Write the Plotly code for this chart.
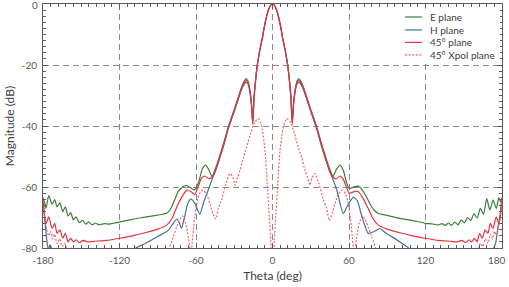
import plotly.graph_objects as go

# ---------------- data ----------------
E_theta_left = [-180, -178.5, -177.6, -175.5, -172.9, -170.8, -169, -166.7, -164.5, -162.5,
                -160.4, -158.3, -156.2, -154.1, -151.5, -148.9, -146.5, -144, -141.5, -139,
                -136, -132, -128, -124, -120, -110, -100, -90, -83, -80,
                -77, -74, -70.5, -67.3, -64, -61.6, -58, -55, -52.4, -50,
                -47.5, -45, -42.5, -38, -34.7, -29.4, -24.2, -22, -20.8, -19.5,
                -18, -16.5, -15.5, -14.5, -13.5, -12, -11, -10, -9, -8,
                -7, -6, -5, -4, -3, -2, -1, 0]
E_db_left = [-63.5, -65.5, -67, -62.8, -65.6, -64.1, -66.5, -65.2, -68.1, -66.5,
             -69.5, -68.4, -70.8, -69.8, -71.7, -70.9, -72.2, -71.4, -72.4, -71.8,
             -72.4, -72, -72.2, -71.8, -71.5, -70.6, -69.9, -69.2, -68.6, -67.3,
             -64.5, -61.5, -60, -59.5, -60.3, -61, -58.5, -54, -52.8, -54.3,
             -56.5, -54.2, -51.2, -45.2, -40.3, -33.8, -27.2, -25.2, -24.5, -25,
             -27.5, -32.5, -39, -31, -26, -20.3, -17.7, -15.2, -13.2, -11.3,
             -8.8, -6.6, -4.7, -3, -1.7, -0.8, -0.2, 0]
E_theta_right = [1, 2, 3, 4, 5, 6, 7, 8, 9, 10,
                 11, 12, 13.5, 14.5, 15.5, 16.5,
                 18, 19.5, 20.8, 22, 24.2, 29.4, 34.7, 38, 42.5, 45,
                 47.5, 50, 52.9, 55.5, 58, 60.2, 63.5, 67.3, 70.5, 74,
                 77, 80, 83, 90, 100, 110, 120, 125, 130, 133,
                 135.5, 138, 140.5, 143, 145.5, 148, 150.5, 153, 155.5, 158,
                 160.5, 163, 165.5, 168, 170.5, 173, 175.5, 177.5, 179, 180]
E_db_right = [-0.2, -0.8, -1.7, -3, -4.7, -6.6, -8.8, -11.3, -13.2, -15.2,
              -17.7, -20.3, -26, -31, -39, -32.5,
              -27.5, -25, -24.5, -25.2, -27.2, -33.8, -40.3, -45.2, -51.2, -54.2,
              -56.5, -54.3, -52.8, -54.5, -58.5, -60.5, -60, -59.7, -61, -63.5,
              -66, -67.7, -68.7, -69.3, -70.3, -71, -71.9, -72.1, -72.4, -72,
              -72.6, -71.8, -72.6, -71.5, -72.4, -70.8, -71.8, -70, -71, -68.8,
              -70.2, -67, -69, -63.8, -67.5, -64.3, -67, -63.5, -65, -63.5]

H_theta_left = [-180, -178.5, -177, -175.8, -174.5, -173, -171, -165, -150, -130,
                -115, -110, -100, -90, -82, -78, -75, -73, -71.5, -69,
                -66.5, -64, -61, -57, -54, -50.4, -47, -45, -42.5, -38,
                -34.7, -29.4, -24.2, -22, -20.8, -19.5, -18, -16.5, -15.5, -14.5,
                -13.5, -12, -11, -10, -9, -8, -7, -6, -5, -4,
                -3, -2, -1, 0]
H_db_left = [-63.5, -71, -77.5, -80.5, -79, -80.5, -83, -86, -88, -86,
             -82, -80.6, -78.5, -76.2, -74.3, -72, -70.5, -71.8, -73.6, -70,
             -65.5, -64, -65.3, -68.9, -65, -61, -57, -55, -52, -46,
             -41, -34.5, -28, -26.2, -25.6, -26, -28.2, -33, -38.5, -31,
             -26, -20.3, -17.7, -15.2, -13.2, -11.3, -8.8, -6.6, -4.7, -3,
             -1.7, -0.8, -0.2, 0]
H_theta_right = [1, 2, 3, 4, 5, 6, 7, 8, 9, 10,
                 11, 12, 13.5, 14.5, 15.5, 16.5,
                 18, 19.5, 20.8, 22, 24.2, 29.4, 34.7, 38, 42.5, 45,
                 47, 50.4, 55.5, 59, 63.4, 66.5, 70, 75.1, 80, 84.3,
                 88, 100, 109, 115, 130, 150, 165, 171, 173, 175,
                 176.5, 178.5, 180]
H_db_right = [-0.2, -0.8, -1.7, -3, -4.7, -6.6, -8.8, -11.3, -13.2, -15.2,
              -17.7, -20.3, -26, -31, -38.5, -33,
              -28.2, -26, -25.6, -26.2, -28, -34.5, -41, -46, -52, -55,
              -57, -61, -68.7, -66, -63.4, -64.5, -69.5, -75.2, -74.5, -73.6,
              -74.8, -78, -80.7, -83, -87, -88, -86, -82, -80.5, -78.5,
              -74, -69, -63.5]

P45_theta_left = [-180, -178.8, -177.6, -175.5, -172.9, -170.8, -169, -166.7, -164.5, -162.5,
                  -160.4, -158.3, -156.2, -154, -151.5, -148.5, -145, -140, -130, -120,
                  -110, -100, -90, -83, -79, -75, -70, -67, -64, -61,
                  -58, -55.5, -53, -50, -47.5, -45, -42.5, -38, -34.7, -29.4,
                  -24.2, -22, -20.8, -19.5, -18, -16.5, -15.5, -14.5, -13.5, -12,
                  -11, -10, -9, -8, -7, -6, -5, -4, -3, -2, -1, 0]
P45_db_left = [-63.5, -69.5, -72, -69.8, -73.6, -71.9, -75.2, -74.1, -76.8, -75.2,
               -78, -76.8, -78, -77.3, -78.2, -77.5, -78, -77.8, -77.5, -76.8,
               -76, -75, -73.8, -72.5, -70.5, -66.5, -62.5, -61, -61.5, -62.5,
               -59.5, -57, -56.4, -57.3, -56.8, -55, -51.8, -45.5, -40.7, -34.2,
               -27.6, -25.7, -25, -25.5, -27.8, -33, -39.5, -31, -26, -20.3,
               -17.7, -15.2, -13.2, -11.3, -8.8, -6.6, -4.7, -3, -1.7, -0.8, -0.2, 0]
P45_theta_right = [1, 2, 3, 4, 5, 6, 7, 8, 9, 10,
                   11, 12, 13.5, 14.5, 15.5, 16.5,
                   18, 19.5, 20.8, 22, 24.2, 29.4, 34.7, 38, 42.5, 45,
                   47.5, 50, 53, 55.5, 58, 60.2, 64, 67, 70, 75,
                   79, 83, 90, 100, 110, 120, 130, 140, 145, 148.5,
                   151.5, 154, 156.2, 158.3, 160.4, 162.5, 164.5, 166.7, 169, 170.8,
                   172.9, 175.5, 177.6, 178.8, 180]
P45_db_right = [-0.2, -0.8, -1.7, -3, -4.7, -6.6, -8.8, -11.3, -13.2, -15.2,
                -17.7, -20.3, -26, -31, -39.5, -33,
                -27.8, -25.5, -25, -25.7, -27.6, -34.2, -40.7, -45.5, -51.8, -55,
                -56.8, -57.3, -56.4, -57.5, -60, -62.1, -61.5, -61.5, -63, -67,
                -70.5, -72.5, -73.8, -75, -76, -76.8, -77.5, -77.8, -78, -77.5,
                -78.2, -77.3, -78, -76.8, -78, -75.2, -76.8, -74.1, -75.2, -71.9,
                -73.6, -69.8, -72, -69.5, -63.5]

X_theta_left = [-180, -179.2, -178.2, -177, -175.5, -174, -172.5, -171, -169, -167,
                -165, -163, -161, -158, -155, -150, -140, -120, -100, -88,
                -82, -78, -75, -72.5, -70.5, -68, -66, -64, -62.5, -61,
                -59, -57, -54.5, -51.6, -49, -47, -44.5, -42.5, -39.8, -36.5,
                -33.3, -31, -29.4, -27.5, -25.5, -23, -20.2, -17, -14, -11.1,
                -8.5, -5.9, -4.1, -2.5, -1.4, -0.5, 0]
X_db_left = [-63.5, -68, -70.8, -74, -76, -74.5, -77, -75.5, -78.5, -77,
             -79.5, -78.5, -80.5, -80, -82, -84, -87, -90, -88, -84,
             -81, -76.5, -73, -70.5, -69.5, -72, -76.5, -82, -76, -70,
             -64.5, -62, -61, -62.5, -65.5, -68.5, -70.5, -67, -64, -59,
             -55.6, -57, -59.4, -57, -54.5, -50.5, -46.9, -42.2, -38.8, -37.6,
             -40.3, -48, -58.8, -69.8, -77.4, -86, -95]
X_theta_right = [0.5, 1.4, 2.5, 4.1, 5.9, 8.5, 11.1, 14, 17, 20.2,
                 23, 25.5, 27.5, 29.4, 31, 33.3, 36.5, 39.8, 42.5, 44.5,
                 47, 49, 51.6, 54.5, 57, 59, 61, 62.5, 64, 66,
                 68, 70.5, 72.5, 75, 78, 82, 88, 100, 120, 140,
                 150, 155, 158, 161, 163, 165, 167, 169, 171, 172.5,
                 174, 175.5, 177, 178.2, 179.2, 180]
X_db_right = [-86, -77.4, -69.8, -58.8, -48, -40.3, -37.6, -38.8, -42.2, -46.9,
              -50.5, -54.5, -57, -59.4, -57, -55.6, -59, -64, -67, -71,
              -68.5, -65.5, -62.5, -61, -62, -64.5, -70, -76, -82, -76.5,
              -72, -69.5, -70.5, -73, -76.5, -81, -84, -88, -90, -87,
              -84, -82, -80, -80.5, -78.5, -79.5, -77, -78.5, -75.5, -77,
              -74.5, -76, -74, -70.8, -68, -63.5]

series_names = ["E plane", "H plane", "45° plane", "45° Xpol plane"]
x_ticks = [-180, -120, -60, 0, 60, 120, 180]
x_tick_labels = ["-180", "-120", "-60", "0", "60", "120", "180"]
y_ticks = [0, -20, -40, -60, -80]
y_tick_labels = ["0", "-20", "-40", "-60", "-80"]

# ---------------- figure ----------------
colors = ["#3e7d3e", "#41709f", "#e8333b", "#f26269"]
dashes = ["solid", "solid", "solid", "2px,1.6px"]
xs = [E_theta_left + E_theta_right, H_theta_left + H_theta_right,
      P45_theta_left + P45_theta_right, X_theta_left + X_theta_right]
ys = [E_db_left + E_db_right, H_db_left + H_db_right,
      P45_db_left + P45_db_right, X_db_left + X_db_right]

fig = go.Figure()
for name, x, y, c, d in zip(series_names, xs, ys, colors, dashes):
    fig.add_trace(go.Scatter(x=x, y=y, mode="lines", name=name, showlegend=False,
                             line=dict(color=c, width=1.2, dash=d, shape="spline", smoothing=0.6)))

FONT = "Lato"
TICKFONT = dict(family=FONT, size=10, color="#595959")
axis_common = dict(showline=True, linecolor="#5a5a5a", linewidth=1, mirror="ticks",
                   ticks="inside", ticklen=5, tickcolor="#5a5a5a", automargin=False,
                   showgrid=True, gridcolor="#8a8a8a", gridwidth=1, griddash="6px,4px",
                   zeroline=False, tickfont=TICKFONT,
                   title_font=dict(family=FONT, size=12, color="#404040"))
# edge labels (180 and 0) are drawn as annotations so they stay inside the page
fig.update_xaxes(**axis_common, range=[-180, 180], tickvals=x_ticks,
                 ticktext=x_tick_labels[:-1] + [""], ticklabelstandoff=3,
                 minor=dict(dtick=6, ticks="inside", ticklen=3, tickcolor="#5a5a5a", showgrid=False),
                 title_text="Theta (deg)", title_standoff=6)
fig.update_yaxes(**axis_common, range=[-80, 0], tickvals=y_ticks,
                 ticktext=[""] + y_tick_labels[1:], ticklabelstandoff=3,
                 minor=dict(dtick=2, ticks="inside", ticklen=3, tickcolor="#5a5a5a", showgrid=False),
                 title_text="Magnitude (dB)", title_standoff=4)

L, R, T, B = 43, 7, 3.5, 39
W, H = 509, 287
pw, ph = W - L - R, H - T - B
def px_x(p):
    return (p - L) / pw
def px_y(p):
    return 1 - (p - T) / ph

annotations = [
    dict(text=x_tick_labels[-1], x=x_ticks[-1], xref="x", y=0, yref="paper",
         xanchor="right", yanchor="top", xshift=6, yshift=-4, showarrow=False, font=TICKFONT),
    dict(text=y_tick_labels[0], x=0, xref="paper", y=y_ticks[0], yref="y",
         xanchor="right", yanchor="middle", xshift=-3, yshift=-1, showarrow=False, font=TICKFONT),
]

# manual legend
shapes = [dict(type="rect", xref="paper", yref="paper", x0=px_x(397), x1=px_x(500),
               y0=px_y(61), y1=px_y(8), fillcolor="white", line=dict(width=0), layer="above")]
rows = [16.5, 29.5, 42, 54.5]
for name, c, d, ry in zip(series_names, colors, dashes, rows):
    shapes.append(dict(type="line", xref="paper", yref="paper", x0=px_x(405), x1=px_x(422),
                       y0=px_y(ry), y1=px_y(ry), line=dict(color=c, width=1.2, dash=d), layer="above"))
    annotations.append(dict(text=name, xref="paper", yref="paper", x=px_x(428), y=px_y(ry),
                            xanchor="left", yanchor="middle", showarrow=False,
                            font=dict(family=FONT, size=10, color="#404040")))

fig.update_layout(width=W, height=H, margin=dict(l=L, r=R, t=T, b=B),
                  paper_bgcolor="white", plot_bgcolor="white",
                  shapes=shapes, annotations=annotations, showlegend=False)
fig.write_html("out.html", config={"displayModeBar": False},
               post_script="document.body.style.margin='0px';")
